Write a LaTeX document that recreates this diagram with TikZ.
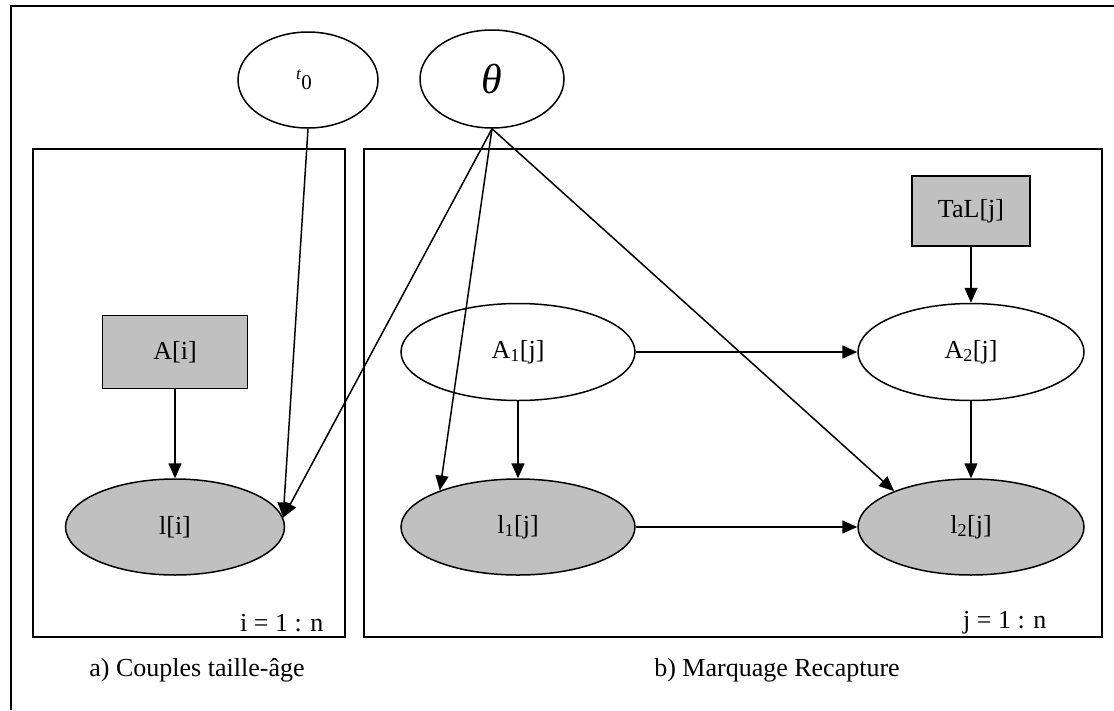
\documentclass[tikz,border=0pt]{standalone}
\usepackage{fontspec}
\setmainfont{Liberation Serif}
\usetikzlibrary{shapes.geometric,arrows.meta}
\definecolor{nodegray}{RGB}{192,192,192}
\begin{document}
\begin{tikzpicture}[x=1pt,y=-1pt,
  every node/.style={font=\fontsize{26}{30}\selectfont},
  ell/.style={ellipse, draw, line width=1.5pt, inner sep=0pt},
  obs/.style={fill=nodegray},
  rectbox/.style={rectangle, draw, line width=1.5pt, fill=nodegray, inner sep=0pt},
  plate/.style={rectangle, draw, line width=1.8pt, inner sep=0pt},
  arr/.style={line width=1.5pt, -{Triangle[length=15pt,width=13pt]}}]
\useasboundingbox (0,0) rectangle (1114,710);
\draw[line width=2pt] (11,710) -- (11,6) -- (1114,6);
% plates
\node[plate, minimum width=312pt, minimum height=488pt, anchor=north west] (platea) at (32,148) {};
\node[plate, minimum width=738pt, minimum height=488pt, anchor=north west] (plateb) at (363,148) {};
% top nodes
\node[ell, minimum width=140pt, minimum height=96pt] (t0) at (308,80)
  {\kern-8pt{\fontsize{17}{17}\selectfont\textit{t}}\raisebox{-10pt}{\fontsize{21}{21}\selectfont 0}};
\node[ell, minimum width=144pt, minimum height=98pt, font=\fontsize{42}{42}\selectfont] (theta) at (492,79) {\textit{θ}};
% plate a
\node[rectbox, minimum width=145pt, minimum height=73pt] (Ai) at (175,352) {A[i]};
\node[ell, obs, minimum width=219pt, minimum height=96pt] (li) at (175,527) {l[i]};
% plate b
\node[rectbox, minimum width=118pt, minimum height=70pt] (TaL) at (971,211) {TaL[j]};
\node[ell, minimum width=234pt, minimum height=97pt] (A1) at (518,352) {A\textsubscript{1}[j]};
\node[ell, obs, minimum width=234pt, minimum height=96pt] (l1) at (518,527) {l\textsubscript{1}[j]};
\node[ell, minimum width=226pt, minimum height=97pt] (A2) at (971,352) {A\textsubscript{2}[j]};
\node[ell, obs, minimum width=226pt, minimum height=96pt] (l2) at (971,527) {l\textsubscript{2}[j]};
% labels
\node[anchor=east] (ilab) at (327,623) {i = 1 : n};
\node[anchor=east] (jlab) at (1050,623) {j = 1 : n};
\node (capa) at (197,670) {a) Couples taille-âge};
\node (capb) at (777,670) {b) Marquage Recapture};
% edges
\draw[arr] (Ai) -- (li);
\draw[arr] (A1) -- (l1);
\draw[arr] (A1) -- (A2);
\draw[arr] (TaL) -- (A2);
\draw[arr] (A2) -- (l2);
\draw[arr] (l1) -- (l2);
\draw[arr] (t0.south) -- (li.5);
\draw[arr] (theta.south) -- (li.5);
\draw[arr] (theta.south) -- (l1.155);
\draw[arr] (theta.south) -- (l2.155);
\end{tikzpicture}
\end{document}
